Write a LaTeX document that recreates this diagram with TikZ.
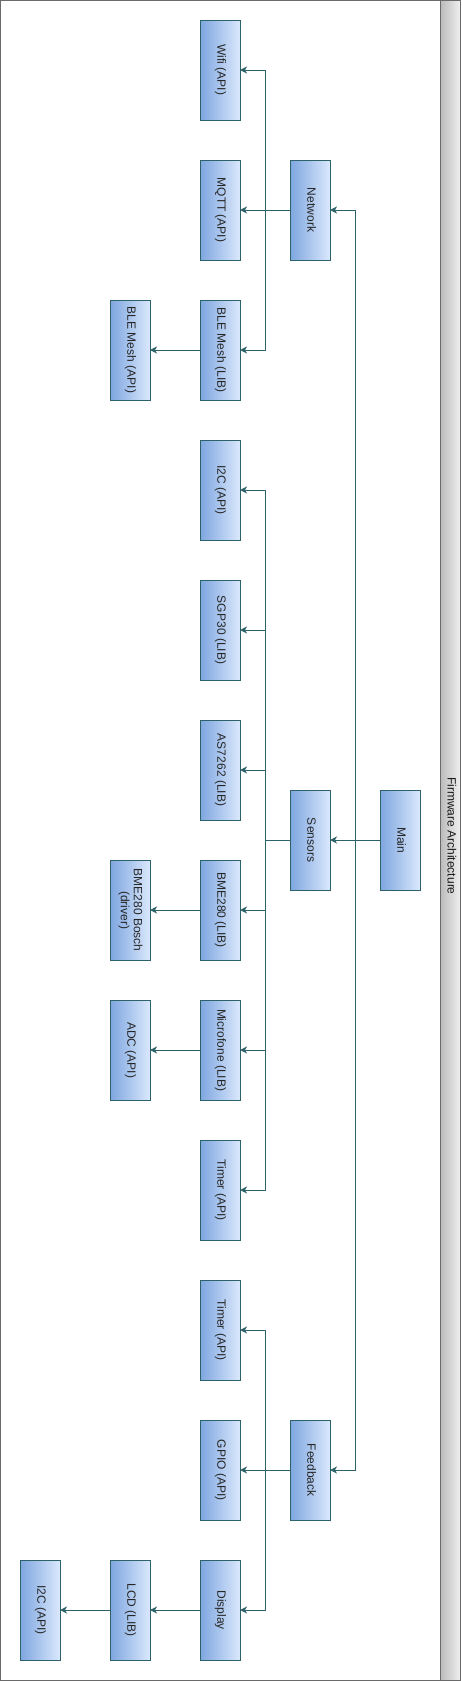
\documentclass[tikz,border=0pt]{standalone}
\usepackage{fontspec}
\setmainfont{Liberation Sans}
\usepackage{graphicx}
\usetikzlibrary{arrows.meta}
\definecolor{edge}{RGB}{45,99,104}
\definecolor{boxL}{HTML}{7EA6E0}
\definecolor{boxR}{HTML}{DAE8FC}
\definecolor{frame}{HTML}{6A6A6A}
\newcommand{\rt}[1]{\rotatebox[origin=c]{-90}{\begin{tabular}{@{}c@{}}#1\end{tabular}}}
\tikzset{
  mod/.style={draw=edge, line width=0.9pt, left color=boxL, right color=boxR,
    minimum width=40pt, minimum height=100pt, inner sep=0pt, outer sep=0pt,
    font=\fontsize{12}{13}\selectfont, text=black!85},
  link/.style={draw=edge, line width=1pt, -{Stealth[length=7pt,width=7pt,inset=2pt]}},
}
\begin{document}
\begin{tikzpicture}[x=1pt,y=-1pt]
\useasboundingbox (0,0) rectangle (461,1681);
\draw[frame, line width=1.2pt, fill=white] (0.6,0.6) rectangle (460.4,1680.4);
\node[draw=frame, line width=1pt, left color=black!27, right color=black!6,
  minimum width=20.4pt, minimum height=1679.8pt, inner sep=0pt, outer sep=0pt] (strip) at (450.2,840.5) {};
\node[font=\fontsize{12}{13}\selectfont, text=black!90, inner sep=0pt] (title) at (450.2,836) {\rt{Firmware Architecture}};

\node[mod] (main) at (400,840) {\rt{Main}};
\node[mod] (network) at (310,210) {\rt{Network}};
\node[mod] (sensors) at (310,840) {\rt{Sensors}};
\node[mod] (feedback) at (310,1470) {\rt{Feedback}};

\node[mod] (wifi) at (220,70) {\rt{Wifi (API)}};
\node[mod] (mqtt) at (220,210) {\rt{MQTT (API)}};
\node[mod] (blelib) at (220,350) {\rt{BLE Mesh (LIB)}};
\node[mod] (bleapi) at (130,350) {\rt{BLE Mesh (API)}};

\node[mod] (i2c) at (220,490) {\rt{I2C (API)}};
\node[mod] (sgp) at (220,630) {\rt{SGP30 (LIB)}};
\node[mod] (as) at (220,770) {\rt{AS7262 (LIB)}};
\node[mod] (bme) at (220,910) {\rt{BME280 (LIB)}};
\node[mod] (bosch) at (130,910) {\rt{BME280 Bosch\\(driver)}};
\node[mod] (mic) at (220,1050) {\rt{Microfone (LIB)}};
\node[mod] (adc) at (130,1050) {\rt{ADC (API)}};
\node[mod] (timera) at (220,1190) {\rt{Timer (API)}};

\node[mod] (timerb) at (220,1330) {\rt{Timer (API)}};
\node[mod] (gpio) at (220,1470) {\rt{GPIO (API)}};
\node[mod] (display) at (220,1610) {\rt{Display}};
\node[mod] (lcd) at (130,1610) {\rt{LCD (LIB)}};
\node[mod] (i2cb) at (40,1610) {\rt{I2C (API)}};

% Main
\draw[link] (main.west) -- (sensors.east);
\draw[link] (main.west) -- ++(-25,0) |- (network.east);
\draw[link] (main.west) -- ++(-25,0) |- (feedback.east);
% Network
\draw[link] (network.west) -- ++(-25,0) |- (wifi.east);
\draw[link] (network.west) -- (mqtt.east);
\draw[link] (network.west) -- ++(-25,0) |- (blelib.east);
\draw[link] (blelib.west) -- (bleapi.east);
% Sensors
\foreach \t in {i2c,sgp,as,bme,mic,timera}
  \draw[link] (sensors.west) -- ++(-25,0) |- (\t.east);
\draw[link] (bme.west) -- (bosch.east);
\draw[link] (mic.west) -- (adc.east);
% Feedback
\draw[link] (feedback.west) -- ++(-25,0) |- (timerb.east);
\draw[link] (feedback.west) -- (gpio.east);
\draw[link] (feedback.west) -- ++(-25,0) |- (display.east);
\draw[link] (display.west) -- (lcd.east);
\draw[link] (lcd.west) -- (i2cb.east);
\end{tikzpicture}
\end{document}
